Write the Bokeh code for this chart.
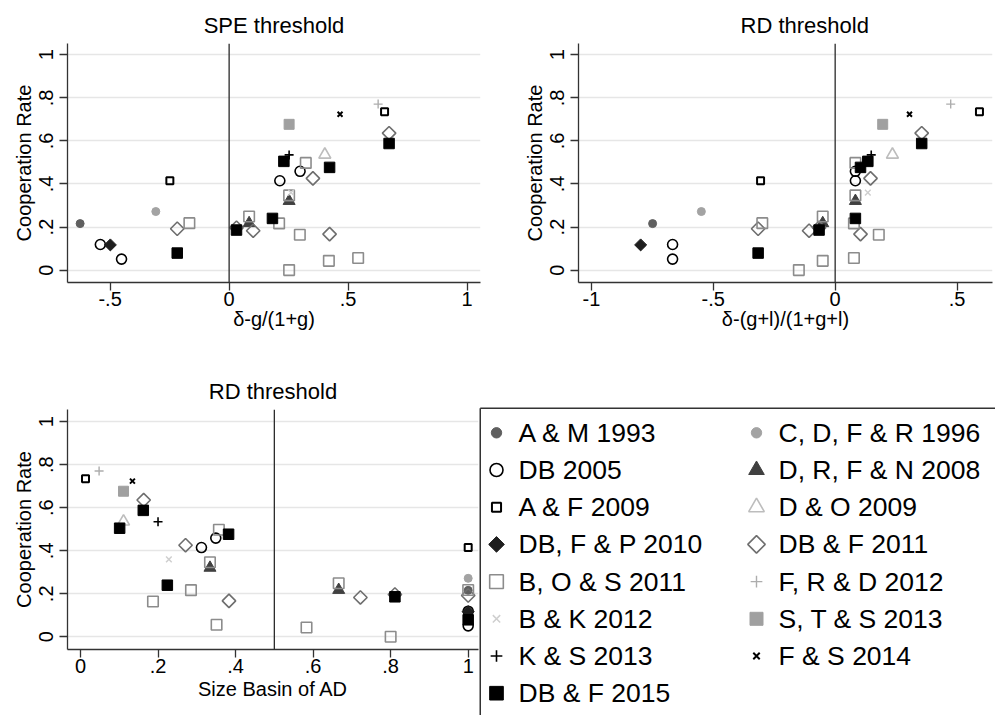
import numpy as np
from bokeh.plotting import figure
from bokeh.layouts import column, row
from bokeh.models import Range1d, Span, ColumnDataSource, FixedTicker
from bokeh.embed import file_html
from bokeh.resources import INLINE
from bokeh.core.properties import value

FONT = "Liberation Sans"

# ---------------- data ----------------
studies = ["A & M 1993", "C, D, F & R 1996", "DB 2005", "D, R, F & N 2008",
           "A & F 2009", "D & O 2009", "DB, F & P 2010", "DB & F 2011",
           "B, O & S 2011", "F, R & D 2012", "B & K 2012", "S, T & S 2013",
           "K & S 2013", "F & S 2014", "DB & F 2015"]

coop = {
    "A & M 1993": [0.216],
    "C, D, F & R 1996": [0.272],
    "DB 2005": [0.119, 0.051, 0.415, 0.459],
    "D, R, F & N 2008": [0.218, 0.321],
    "A & F 2009": [0.415, 0.735],
    "D & O 2009": [0.536],
    "DB, F & P 2010": [0.117],
    "DB & F 2011": [0.192, 0.183, 0.426, 0.167, 0.636, 0.197],
    "B, O & S 2011": [0.218, 0.217, 0.249, 0.347, 0.498, 0.164, 0.0, 0.043, 0.056],
    "F, R & D 2012": [0.771],
    "B & K 2012": [0.360],
    "S, T & S 2013": [0.677],
    "K & S 2013": [0.535],
    "F & S 2014": [0.724],
    "DB & F 2015": [0.079, 0.186, 0.240, 0.505, 0.477, 0.588],
}
spe = {
    "A & M 1993": [-0.626],
    "C, D, F & R 1996": [-0.308],
    "DB 2005": [-0.541, -0.452, 0.213, 0.298],
    "D, R, F & N 2008": [0.084, 0.252],
    "A & F 2009": [-0.249, 0.653],
    "D & O 2009": [0.402],
    "DB, F & P 2010": [-0.499],
    "DB & F 2011": [-0.218, 0.101, 0.352, 0.422, 0.672, 0.031],
    "B, O & S 2011": [-0.167, 0.210, 0.084, 0.252, 0.322, 0.297, 0.252, 0.419, 0.542],
    "F, R & D 2012": [0.626],
    "B & K 2012": [0.260],
    "S, T & S 2013": [0.252],
    "K & S 2013": [0.252],
    "F & S 2014": [0.466],
    "DB & F 2015": [-0.218, 0.031, 0.182, 0.230, 0.422, 0.672],
}
rd = {
    "A & M 1993": [-0.749],
    "C, D, F & R 1996": [-0.549],
    "DB 2005": [-0.667, -0.667, 0.083, 0.083],
    "D, R, F & N 2008": [-0.051, 0.083],
    "A & F 2009": [-0.306, 0.592],
    "D & O 2009": [0.235],
    "DB, F & P 2010": [-0.798],
    "DB & F 2011": [-0.316, -0.107, 0.145, 0.104, 0.355, -0.066],
    "B, O & S 2011": [-0.299, 0.077, -0.051, 0.083, 0.083, 0.179, -0.149, -0.051, 0.077],
    "F, R & D 2012": [0.474],
    "B & K 2012": [0.134],
    "S, T & S 2013": [0.195],
    "K & S 2013": [0.148],
    "F & S 2014": [0.305],
    "DB & F 2015": [-0.316, -0.066, 0.083, 0.134, 0.104, 0.355],
}
basin = {
    "A & M 1993": [1.0],
    "C, D, F & R 1996": [1.0],
    "DB 2005": [1.0, 1.0, 0.312, 0.349],
    "D, R, F & N 2008": [0.666, 0.334],
    "A & F 2009": [1.0, 0.013],
    "D & O 2009": [0.111],
    "DB, F & P 2010": [1.0],
    "DB & F 2011": [1.0, 0.722, 0.271, 0.383, 0.163, 0.811],
    "B, O & S 2011": [1.0, 0.285, 0.666, 0.334, 0.357, 0.187, 0.8, 0.583, 0.351],
    "F, R & D 2012": [0.048],
    "B & K 2012": [0.228],
    "S, T & S 2013": [0.111],
    "K & S 2013": [0.200],
    "F & S 2014": [0.134],
    "DB & F 2015": [1.0, 0.811, 0.224, 0.101, 0.382, 0.162],
}

y_ticks = [0, 0.2, 0.4, 0.6, 0.8, 1]
y_tick_labels = ["0", ".2", ".4", ".6", ".8", "1"]
spe_ticks = [-0.5, 0, 0.5, 1]
spe_tick_labels = ["-.5", "0", ".5", "1"]
rd_ticks = [-1, -0.5, 0, 0.5]
rd_tick_labels = ["-1", "-.5", "0", ".5"]
basin_ticks = [0, 0.2, 0.4, 0.6, 0.8, 1]
basin_tick_labels = ["0", ".2", ".4", ".6", ".8", "1"]

# ---------------- marker styles ----------------
styles = {
    "A & M 1993":       dict(marker="circle", size=8, fill_color="#5f5f5f", line_color="#5f5f5f", line_width=1, angle=0),
    "C, D, F & R 1996": dict(marker="circle", size=8, fill_color="#a3a3a3", line_color="#a3a3a3", line_width=1, angle=0),
    "DB 2005":          dict(marker="circle", size=10, fill_color=None, line_color="#000000", line_width=1.6, angle=0),
    "D, R, F & N 2008": dict(marker="triangle", size=12, fill_color="#404040", line_color="#404040", line_width=1, angle=0),
    "A & F 2009":       dict(marker="square", size=7, fill_color=None, line_color="#000000", line_width=2, angle=0),
    "D & O 2009":       dict(marker="triangle", size=12, fill_color=None, line_color="#bdbdbd", line_width=1.6, angle=0),
    "DB, F & P 2010":   dict(marker="square", size=8.5, fill_color="#1e1e1e", line_color="#1e1e1e", line_width=1, angle=np.pi / 4),
    "DB & F 2011":      dict(marker="square", size=9.5, fill_color=None, line_color="#6e6e6e", line_width=1.6, angle=np.pi / 4),
    "B, O & S 2011":    dict(marker="square", size=10.5, fill_color=None, line_color="#8c8c8c", line_width=1.6, angle=0),
    "F, R & D 2012":    dict(marker="cross", size=9, fill_color=None, line_color="#adadad", line_width=1.4, angle=0),
    "B & K 2012":       dict(marker="x", size=8, fill_color=None, line_color="#cfcfcf", line_width=1.5, angle=0),
    "S, T & S 2013":    dict(marker="square", size=10, fill_color="#a0a0a0", line_color="#a0a0a0", line_width=1, angle=0),
    "K & S 2013":       dict(marker="cross", size=9, fill_color=None, line_color="#000000", line_width=1.6, angle=0),
    "F & S 2014":       dict(marker="x", size=7, fill_color=None, line_color="#000000", line_width=2, angle=0),
    "DB & F 2015":      dict(marker="square", size=10.5, fill_color="#000000", line_color="#000000", line_width=1, angle=0),
}

AXIS_COLOR = "#333333"


def make_panel(title, xlabel, xdata, x_range, y_range, xticks, xlabels, vline,
               width, height, borders, title_align="center", title_offset=0, xlab_standoff=0):
    left, right, top, bottom = borders
    p = figure(width=width, height=height, output_backend="svg", toolbar_location=None,
               x_range=Range1d(*x_range), y_range=Range1d(*y_range),
               min_border_left=left, min_border_right=right,
               min_border_top=top, min_border_bottom=bottom,
               background_fill_color="white", border_fill_color="white")
    p.outline_line_color = None
    p.title.text = title
    p.title.align = title_align
    p.title.offset = title_offset
    p.title.standoff = 12
    p.title.text_font = FONT
    p.title.text_font_size = "22px"
    p.title.text_font_style = "normal"
    p.title.text_color = "#000000"

    p.xgrid.visible = False
    p.ygrid.grid_line_color = "#e6e6e6"
    p.ygrid.grid_line_width = 1.5

    p.yaxis.ticker = FixedTicker(ticks=y_ticks)
    p.yaxis.major_label_overrides = dict(zip(y_ticks, y_tick_labels))
    p.yaxis.major_label_orientation = "vertical"
    p.yaxis.axis_label = "Cooperation Rate"
    p.xaxis.ticker = FixedTicker(ticks=xticks)
    p.xaxis.major_label_overrides = dict(zip(xticks, xlabels))
    p.xaxis.axis_label = xlabel
    for ax in (p.xaxis, p.yaxis):
        ax.axis_line_color = AXIS_COLOR
        ax.axis_line_width = 1.3
        ax.major_tick_line_color = AXIS_COLOR
        ax.major_tick_line_width = 1.3
        ax.major_tick_out = 8
        ax.major_tick_in = 0
        ax.minor_tick_line_color = None
        ax.major_label_text_font = FONT
        ax.major_label_text_font_size = "20px"
        ax.major_label_text_color = "#000000"
        ax.axis_label_text_font = FONT
        ax.axis_label_text_font_size = "20px"
        ax.axis_label_text_font_style = "normal"
        ax.axis_label_text_color = "#000000"
    p.yaxis.major_label_standoff = 6
    p.yaxis.axis_label_standoff = 2
    p.xaxis.major_label_standoff = 1
    p.xaxis.axis_label_standoff = xlab_standoff

    p.add_layout(Span(location=vline, dimension="height", line_color="#2a2a2a", line_width=1.3))

    for s in studies:
        st = styles[s]
        src = ColumnDataSource(dict(x=xdata[s], y=coop[s]))
        p.scatter("x", "y", source=src, marker=st["marker"], size=st["size"],
                  fill_color=st["fill_color"], line_color=st["line_color"],
                  line_width=st["line_width"], angle=st["angle"])
    return p


# top row: 0..345 ; bottom row: 345..715
p1 = make_panel("SPE threshold", "\u03b4-g/(1+g)", spe, (-0.679, 1.056), (-0.0576, 1.0525),
                spe_ticks, spe_tick_labels, 0, 520, 345, (67, 40, 43, 63), xlab_standoff=-1)
p2 = make_panel("RD threshold", "\u03b4-(g+l)/(1+g+l)", rd, (-1.053, 0.6455), (-0.0576, 1.0525),
                rd_ticks, rd_tick_labels, 0, 475, 345, (58, 3, 43, 63),
                title_align="left", title_offset=162, xlab_standoff=-1)
p3 = make_panel("RD threshold", "Size Basin of AD", basin, (-0.0335, 1.0266), (-0.059, 1.057),
                basin_ticks, basin_tick_labels, 0.5, 479, 370, (67, 1, 64, 66), xlab_standoff=2)

# ---------------- legend panel ----------------
# Frame of this panel lines up with the bottom-left panel's frame (409..649 px);
# the y range maps 1 unit = 1 px, measured down from the legend box's top edge (407 px).
FRAME_TOP, FRAME_BOTTOM = 409, 649
BOX_TOP = 407
Y_LO, Y_HI = FRAME_TOP - BOX_TOP, FRAME_BOTTOM - BOX_TOP
p4 = figure(width=516, height=370, output_backend="svg", toolbar_location=None,
            x_range=Range1d(0, 516), y_range=Range1d(Y_HI, Y_LO),
            x_axis_location=None, y_axis_location=None,
            min_border_left=0, min_border_right=0, min_border_top=64, min_border_bottom=66,
            background_fill_color="white", border_fill_color="white")
p4.outline_line_color = None
p4.grid.visible = False

box = ColumnDataSource(dict(x0=[0.75, 0.75], y0=[0.75, 0.75], x1=[0.75, 600], y1=[400, 0.75]))
p4.segment("x0", "y0", "x1", "y1", source=box, line_color="#333333", line_width=1.5, level="overlay")

COL_PITCH = 260
ROW_PITCH = 37.2
for i, s in enumerate(studies):
    r, c = divmod(i, 2)
    st = styles[s]
    msize = st["size"] * 1.3
    mx = 17 + c * COL_PITCH
    ty = 25.3 + r * ROW_PITCH
    if ty - msize > Y_HI and st["marker"] == "square":
        # key lies below this panel's frame, where point markers are culled:
        # draw the same square as a polygon around the key centre instead
        h = msize / 2
        p4.patch(x=[mx - h, mx + h, mx + h, mx - h], y=[ty - h, ty - h, ty + h, ty + h],
                 fill_color=st["fill_color"], line_color=st["line_color"],
                 line_width=st["line_width"], level="overlay")
    else:
        p4.scatter(x=[mx], y=[ty], marker=st["marker"], size=msize,
                   fill_color=st["fill_color"], line_color=st["line_color"],
                   line_width=st["line_width"], angle=st["angle"], level="overlay")
    p4.text(x=[mx + 22], y=[ty], text=[s], text_font=value(FONT), text_font_size="26.5px",
            text_baseline="middle", text_align="left", text_color="#000000", level="overlay")

layout = column(row(p1, p2), row(p3, p4))

with open("out.html", "w") as f:
    f.write(file_html(layout, INLINE, "Cooperation Rate"))
